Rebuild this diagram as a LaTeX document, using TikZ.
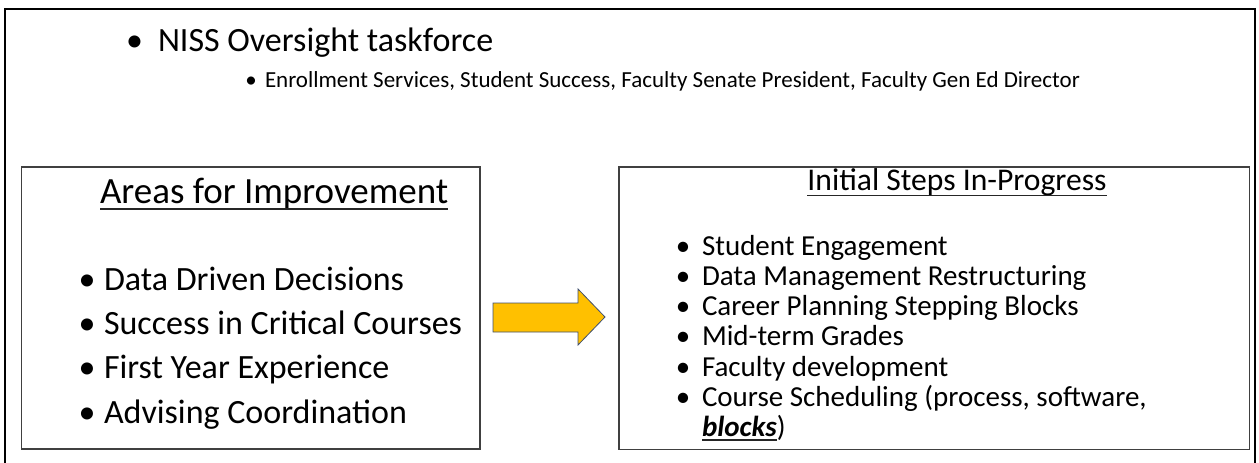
\documentclass[tikz,border=0pt]{standalone}
\usepackage{fontspec}
\setmainfont{Carlito}
\begin{document}
\begin{tikzpicture}[x=1pt,y=-1pt,
  txt/.style={anchor=base west,inner sep=0pt,outer sep=0pt},
  bul/.style={anchor=base,inner sep=0pt,outer sep=0pt},
  boxline/.style={draw=black!75,line width=1.2pt},
  ul/.style={line width=1.8pt,black!85},
  bigfont/.style={font=\fontsize{34}{40}\selectfont},
  smallfont/.style={font=\fontsize{29}{34}\selectfont},
  subfont/.style={font=\fontsize{23}{28}\selectfont}]
\useasboundingbox (0,0) rectangle (1259,463);
% outer frame
\draw[line width=2pt,black] (5,475) -- (5,8.5) -- (1255,8.5) -- (1255,475);
% top bullets
\node[bul,bigfont] (b0) at (134.5,51) {•};
\node[txt,bigfont] (t0) at (158,51) {NISS Oversight taskforce};
\node[bul,subfont] (b1) at (251,87) {•};
\node[txt,subfont] (t1) at (265,87) {Enrollment Services, Student Success, Faculty Senate President, Faculty Gen Ed Director};
% left box
\draw[boxline] (21.5,167) rectangle (480,449);
\node[txt,font=\fontsize{37}{44}\selectfont] (lt) at (100,203) {Areas for Improvement};
\draw[ul] ([yshift=-6pt]lt.base west) -- ([yshift=-6pt]lt.base east);
\foreach \y/\s/\n in {290/Data Driven Decisions/l1,334/Success in Critical Courses/l2,378/First Year Experience/l3,423/Advising Coordination/l4}{
  \node[bul,bigfont] (\n b) at (87,\y) {•};
  \node[txt,bigfont] (\n) at (104,\y) {\s};
}
% right box
\draw[boxline] (619,167) rectangle (1249.5,449.5);
\node[anchor=base,inner sep=0pt,font=\fontsize{31.6}{36}\selectfont] (rt) at (957,190) {Initial Steps In-Progress};
\draw[ul] ([yshift=-5.5pt]rt.base west) -- ([yshift=-5.5pt]rt.base east);
\foreach \y/\s/\n in {255/Student Engagement/r1,285.3/Data Management Restructuring/r2,315.6/Career Planning Stepping Blocks/r3,345.9/Mid-term Grades/r4,376.2/Faculty development/r5,406.5/{Course Scheduling (process, software,}/r6}{
  \node[bul,smallfont] (\n b) at (683,\y) {•};
  \node[txt,smallfont] (\n) at (702,\y) {\s};
}
\node[txt,smallfont] (r7) at (702,436) {\textbf{\textit{blocks}}};
\node[txt,smallfont] (r7p) at (r7.base east) {)};
\draw[ul] ([yshift=-4pt]r7.base west) -- ([yshift=-4pt]r7.base east);
% arrow
\draw[fill={rgb,255:red,255;green,192;blue,0},draw={rgb,255:red,65;green,80;blue,110},line width=0.8pt]
  (493,303) -- (578,303) -- (578,289) -- (605,317) -- (578,345) -- (578,332) -- (493,332) -- cycle;
\end{tikzpicture}
\end{document}
